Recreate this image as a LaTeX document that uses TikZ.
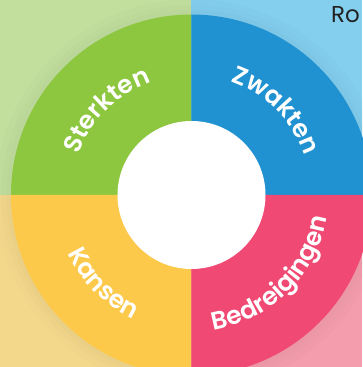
\documentclass[tikz,border=0pt]{standalone}
\usepackage{fontspec}
\setmainfont{Poppins}
\newfontfamily\labelfont{Poppins SemiBold}
\usetikzlibrary{decorations.text}
\definecolor{sterkGreen}{HTML}{8DC63F}
\definecolor{zwakBlue}{HTML}{2192D1}
\definecolor{kansYellow}{HTML}{FCC94A}
\definecolor{bedrPink}{HTML}{F04A74}
\definecolor{bgGreen}{HTML}{C3DF9E}
\definecolor{bgBlue}{HTML}{84CFEE}
\definecolor{bgYellow}{HTML}{F3D88C}
\definecolor{bgPink}{HTML}{F49DAD}
\definecolor{titleGray}{HTML}{222222}

\begin{document}
\begin{tikzpicture}[
			x=1pt, y=1pt,
			quart/.style={draw=none},
			arclabel/.style={decorate, decoration={text along path, text align=center, text color=white,
					text={|\labelfont\fontsize{25}{25}\selectfont|#1}}}
			]
			\useasboundingbox (-191.5,-172) rectangle (170.5,195);
			
			% light background quarters
			\fill[bgGreen] (-191.5,0) rectangle (0,195);
			\fill[bgBlue] (0,0) rectangle (170.5,195);
			\fill[bgYellow] (-191.5,-172) rectangle (0,0);
			\fill[bgPink] (0,-172) rectangle (170.5,0);
			
			% soft halo round the ring
			\foreach \r in {196,190,185}
			\fill[black, opacity=0.012] (0,0) circle (\r);
			
			% ring quarters
			\fill[quart, sterkGreen] (0,0) -- (180:180.5) arc[start angle=180, end angle=90, radius=180.5] -- cycle;
			\fill[quart, zwakBlue] (0,0) -- (90:180.5) arc[start angle=90, end angle=0, radius=180.5] -- cycle;
			\fill[quart, kansYellow] (0,0) -- (180:180.5) arc[start angle=180, end angle=270, radius=180.5] -- cycle;
			\fill[quart, bedrPink] (0,0) -- (270:180.5) arc[start angle=270, end angle=360, radius=180.5] -- cycle;
			
			\node[circle, fill=white, minimum size=148pt, inner sep=0pt] (hole) at (0,0) {};
			
			% labels along the ring
			\path[arclabel=Sterkten] (180:120) arc[start angle=180, end angle=90, radius=120];
			\path[arclabel=Zwakten] (90:120) arc[start angle=90, end angle=0, radius=120];
			\path[arclabel=Kansen] (180:137) arc[start angle=180, end angle=270, radius=137];
			\path[arclabel=Bedreigingen] (270:137) arc[start angle=270, end angle=360, radius=137];
			
			\node[anchor=base west, inner sep=0pt, text=titleGray, font=\fontsize{23}{23}\selectfont] (title) at (139.5,172.7) {Ro};
		\end{tikzpicture}
\end{document}
